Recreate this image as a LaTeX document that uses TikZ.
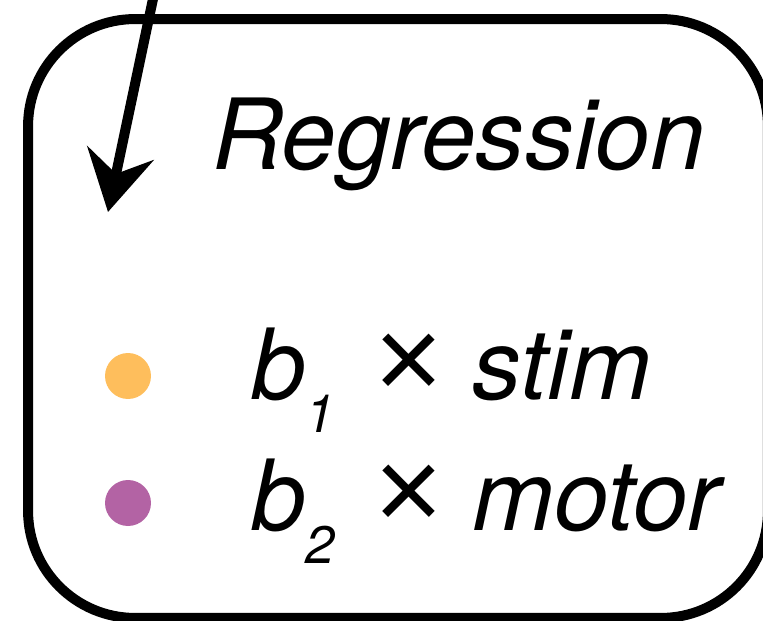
\documentclass[tikz,border=0pt]{standalone}
\usepackage{fontspec}
\setmainfont{TeX Gyre Heros}
\newfontfamily\arialfont{Liberation Sans}
\usetikzlibrary{arrows.meta}
\definecolor{stimorange}{RGB}{254,190,92}
\definecolor{motorpurple}{RGB}{179,99,164}
\newcommand{\lowsub}[1]{\raisebox{-0.34em}{\fontsize{30}{33}\selectfont #1}}
\newcommand{\multsign}{\scalebox{1.2}{\arialfont\upshape ×}}
\tikzset{
  regbox/.style={draw, line width=0.2cm, rounded corners=2.14cm, minimum width=14.8cm, minimum height=11.98cm, inner sep=0pt},
  bigtext/.style={font=\fontsize{55.9}{60}\selectfont\itshape, inner sep=0pt, anchor=base west},
  legdot/.style={circle, inner sep=0pt, minimum size=0.92cm},
}
\begin{document}
\begin{tikzpicture}[x=0.02cm, y=-0.02cm]
\useasboundingbox (0,0) rectangle (763,621);
\clip (0,0) rectangle (763,621);
\node[regbox] (box) at (398,318.5) {};
\node[bigtext] (title) at (212,170) {Regression};

\node[legdot, fill=stimorange] (dot1) at (128,376) {};
\node[legdot, fill=motorpurple] (dot2) at (128,503) {};
\node[bigtext] (term1) at (251,399) {b\lowsub{1}\hspace{0.4em}\multsign\hspace{0.3em}stim};
\node[bigtext] (term2) at (251,530) {b\lowsub{2}\hspace{0.4em}\multsign\hspace{0.3em}motor};

\coordinate (from) at (157,-20);
\coordinate (tip) at (108,212);
\draw[line width=0.2cm, -{Stealth[length=1.2cm, width=1.35cm, inset=0.42cm]}] (from) -- (tip);
\end{tikzpicture}
\end{document}
